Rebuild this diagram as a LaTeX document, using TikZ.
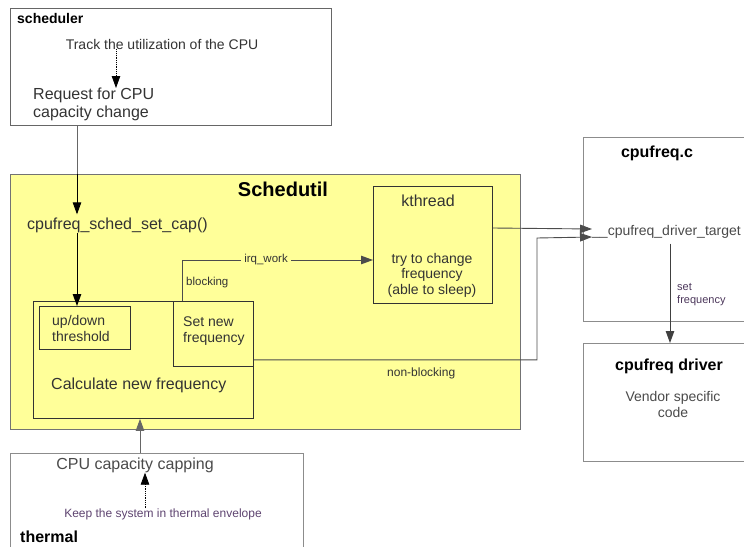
\documentclass[tikz,border=0pt]{standalone}
\usepackage{fontspec}
\setmainfont{Liberation Sans}
\usetikzlibrary{arrows.meta,calc}
\definecolor{yel}{HTML}{FFFF99}
\definecolor{txt}{HTML}{333333}
\definecolor{gtxt}{HTML}{4A4A4A}
\definecolor{ptxt}{HTML}{5E4470}
\newcommand{\fs}[2]{\fontsize{#1}{#2}\selectfont}
\tikzset{
  box/.style={draw=#1, anchor=north west, inner sep=0pt, line width=0.9pt},
  box/.default={black!70},
  lbl/.style={inner sep=0pt, text=txt},
  arr/.style={-{Triangle[length=12pt,width=8.5pt]}, line width=0.9pt},
  dotarr/.style={-{Triangle[length=12pt,width=8.5pt]}, densely dotted, line width=0.8pt}
}
\begin{document}
\begin{tikzpicture}[x=1pt,y=-1pt]
\useasboundingbox (0,0) rectangle (744,546);
% boxes
\node[box=black!60, minimum width=321pt, minimum height=117pt] (sched) at (10,8) {};
\node[box=black!55, fill=yel, minimum width=510pt, minimum height=255pt] (yel) at (10,174) {};
\node[box=black!80, minimum width=119pt, minimum height=117pt] (kth) at (373,186) {};
\node[box=black!80, minimum width=220pt, minimum height=117pt] (calc) at (33,301) {};
\node[box=black!80, minimum width=91pt, minimum height=43pt] (ud) at (39,306) {};
\node[box=black!80, minimum width=80pt, minimum height=65pt] (setnew) at (173,301) {};
\node[box=black!45, minimum width=190pt, minimum height=184pt] (cfc) at (583,137) {};
\node[box=black!45, minimum width=190pt, minimum height=118pt] (drv) at (583,343) {};
\node[box=black!45, minimum width=293pt, minimum height=120pt] (therm) at (10,453) {};
% texts
\node[lbl, anchor=west, text=black, font=\fs{14}{16}\bfseries] (schedt) at (17,18) {scheduler};
\node[lbl, font=\fs{14}{16}] (track) at (162,44) {Track the utilization of the CPU};
\node[lbl, anchor=north west, align=left, font=\fs{16}{18}] (req) at (33,88) {Request for CPU\\capacity change};
\node[lbl, text=black, font=\fs{20}{22}\bfseries] (schedutil) at (283,189) {Schedutil};
\node[lbl, anchor=west, font=\fs{16}{18}] (cap) at (27,225) {cpufreq\_sched\_set\_cap()};
\node[lbl, font=\fs{16}{18}] (kt) at (428,201) {kthread};
\node[lbl, align=center, font=\fs{14}{15.5}] (try) at (432,275) {try to change\\frequency\\(able to sleep)};
\node[lbl, anchor=west, align=left, font=\fs{14}{16}] (udt) at (52,328) {up/down\\threshold};
\node[lbl, anchor=west, align=left, font=\fs{14}{16}] (snt) at (183,331) {Set new\\frequency};
\node[lbl, anchor=west, font=\fs{16}{18}] (calct) at (51,385) {Calculate new frequency};
\node[lbl, anchor=west, font=\fs{11.5}{13}] (blk) at (186,283) {blocking};
\node[lbl, anchor=west, font=\fs{12}{14}] (nblk) at (387,373) {non-blocking};
\node[lbl, text=black, font=\fs{16}{18}\bfseries] (cfct) at (657,153) {cpufreq.c};
\node[lbl, anchor=west, text=gtxt, font=\fs{14}{16}] (target) at (592,232) {\_\_cpufreq\_driver\_target};
\node[lbl, anchor=west, align=left, text=ptxt!80!black, font=\fs{11}{13}] (setf) at (677,295) {set\\frequency};
\node[lbl, text=black, font=\fs{16}{18}\bfseries] (drvt) at (669,366) {cpufreq driver};
\node[lbl, align=center, text=gtxt, font=\fs{14}{16}] (vend) at (673,404) {Vendor specific\\code};
\node[lbl, text=gtxt, font=\fs{16}{18}] (capping) at (135,465) {CPU capacity capping};
\node[lbl, text=ptxt, font=\fs{12}{14}] (keep) at (163,514) {Keep the system in thermal envelope};
\node[lbl, anchor=west, text=black, font=\fs{16}{18}\bfseries] (thermt) at (20,537) {thermal};
% connectors
\draw[dotarr] (track.south -| 116,0) -- (req.north -| 116,0);
\draw[line width=0.9pt, draw=black!60] (sched.south -| 77,0) -- (yel.north -| 77,0);
\draw[arr] (yel.north -| 77,0) -- ($(cap.north -| 77,0)+(0,-3)$);
\draw[arr] (cap.south -| 77,0) -- (ud.north -| 77,0);
\draw[arr, draw=black!70] (setnew.north -| 182,0) |- (kth.west |- 0,260)
  node[pos=0.72, fill=yel, inner sep=3pt, text=txt, font=\fs{11.5}{13}] (irq) {irq\_work};
\draw[arr, draw=black!70] ($(kth.north east)+(0,42)$) -- ($(target.west)+(0,-3)$);
\draw[arr, draw=black!70] ($(setnew.south east)+(0,-7)$) -| (537,238) -- ($(target.west)+(0,5)$);
\draw[arr, draw=black!75] (target.south -| 670,0) ++(0,5) -- (drv.north -| 670,0);
\draw[arr, draw=black!60] (therm.north -| 140,0) -- (calc.south -| 140,0);
\draw[dotarr] (keep.north -| 145,0) -- (capping.south -| 145,0);
\end{tikzpicture}
\end{document}
